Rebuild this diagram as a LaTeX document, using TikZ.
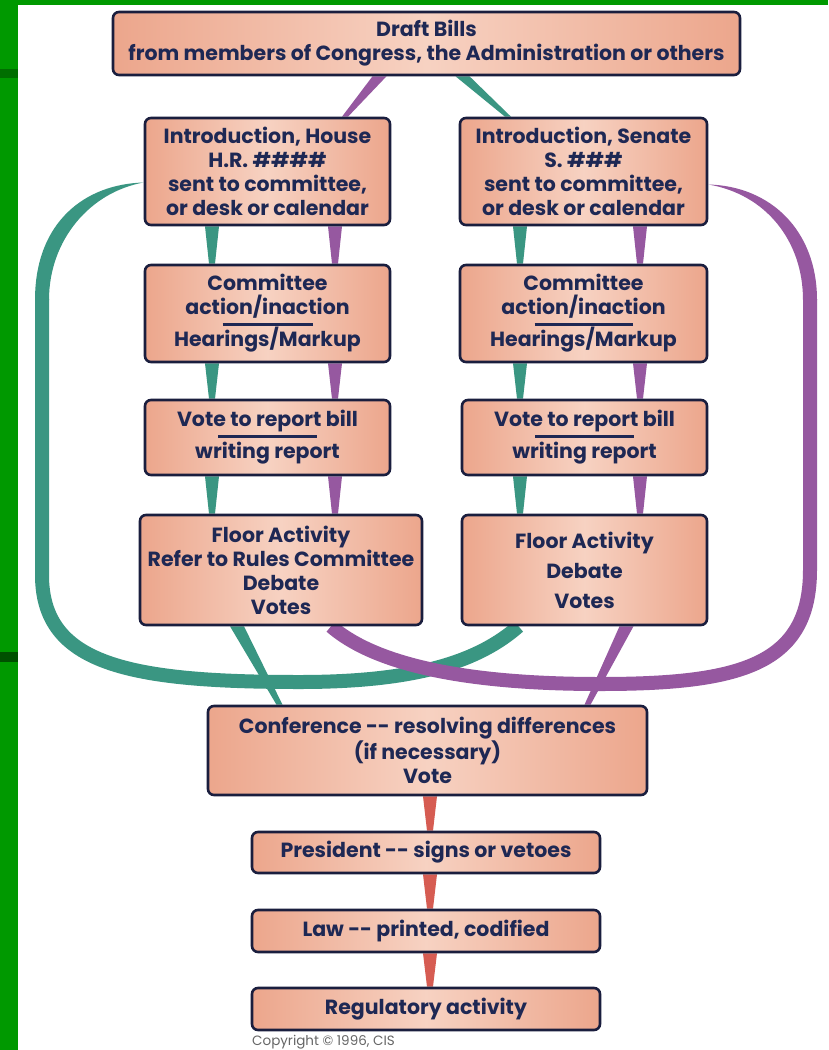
\documentclass[tikz,border=0pt]{standalone}
\usepackage{fontspec}
\setmainfont{Poppins}
\usetikzlibrary{calc,backgrounds}

\definecolor{slidegreen}{RGB}{0,153,0}
\definecolor{slidebar}{RGB}{0,110,0}
\definecolor{slidebardark}{RGB}{0,80,0}
\definecolor{peach}{RGB}{236,166,140}
\definecolor{peachlight}{RGB}{247,210,194}
\definecolor{boxline}{RGB}{26,30,62}
\definecolor{boxtext}{RGB}{30,40,84}
\definecolor{housecol}{RGB}{58,150,130}
\definecolor{senatecol}{RGB}{150,88,160}
\definecolor{lawcol}{RGB}{214,92,82}

\tikzset{
  stagebox/.style={draw=boxline, line width=2.6, rounded corners=6,
    left color=peach, right color=peach, middle color=peachlight,
    inner sep=0, align=center, text=boxtext,
    font=\fontsize{20.5}{24}\selectfont\bfseries},
  bigband/.style={line width=14, line cap=butt}
}

% tapered link: colour, upper end, lower end
\newcommand{\taperlink}[3]{%
  \fill[#1] ($(#2)+(-7,0)$) -- ($(#2)+(7,0)$) -- ($(#3)+(3,0)$) -- ($(#3)+(-3,0)$) -- cycle;}

\begin{document}
\begin{tikzpicture}[x=1pt,y=-1pt]
    \useasboundingbox (0,0) rectangle (828,1050);

    \coordinate (hT) at (212,0);
    \coordinate (hP) at (335,0);
    \coordinate (sT) at (520,0);
    \coordinate (sP) at (640,0);
    \coordinate (mid) at (430,0);

    \node (db) at (426.5,43.5) [stagebox, minimum width=627, minimum height=63]
      {Draft Bills\\from members of Congress, the Administration or others};

    \node (ih) at (267.5,171.5) [stagebox, minimum width=245, minimum height=107]
      {Introduction, House\\H.R. \#\#\#\#\\sent to committee,\\or desk or calendar};
    \node (is) at (583.5,171.5) [stagebox, minimum width=247, minimum height=107]
      {Introduction, Senate\\S. \#\#\#\\sent to committee,\\or desk or calendar};

    \node (ch) at (267.5,313.5) [stagebox, minimum width=245, minimum height=97]
      {Committee\\action/inaction\\[-13pt]\rule{90pt}{2.5pt}\\[-3pt]Hearings/Markup};
    \node (cs) at (583.5,313.5) [stagebox, minimum width=247, minimum height=97]
      {Committee\\action/inaction\\[-13pt]\rule{98pt}{2.5pt}\\[-3pt]Hearings/Markup};

    \node (vh) at (267.5,437.5) [stagebox, minimum width=245, minimum height=75]
      {Vote to report bill\\[-13pt]\rule{99pt}{2.5pt}\\[-3pt]writing report};
    \node (vs) at (584.5,437.5) [stagebox, minimum width=245, minimum height=75]
      {Vote to report bill\\[-13pt]\rule{99pt}{2.5pt}\\[-3pt]writing report};

    \node (fh) at (281,570) [stagebox, minimum width=282, minimum height=110]
      {Floor Activity\\Refer to Rules Committee\\Debate\\Votes};
    \node (fs) at (584.5,570) [stagebox, minimum width=245, minimum height=110]
      {Floor Activity\\[6pt]Debate\\[6pt]Votes};

    \node (cf) at (427.5,750.5) [stagebox, minimum width=439, minimum height=89]
      {Conference -{}- resolving differences\\(if necessary)\\Vote};
    \node (pr) at (426,852.5) [stagebox, minimum width=348, minimum height=41]
      {President -{}- signs or vetoes};
    \node (lw) at (426,931) [stagebox, minimum width=348, minimum height=42]
      {Law -{}- printed, codified};
    \node (rg) at (426,1009) [stagebox, minimum width=348, minimum height=42]
      {Regulatory activity};

    \node (cr) at (252,1042) [anchor=west, inner sep=0, text=black!60,
      font=\fontsize{13.5}{15}\selectfont] {Copyright \textcopyright{} 1996, CIS};

    \begin{pgfonlayer}{background}
      \fill[white] (0,0) rectangle (828,1050);
      \fill[slidegreen] (0,0) rectangle (828,5);
      \fill[slidegreen] (0,0) rectangle (18,1050);
      \fill[slidebar] (0,69) rectangle (18,78);
      \fill[slidebardark] (0,652) rectangle (18,662);

      \taperlink{senatecol}{$(db.south)+(-47,0)$}{$(ih.north -| hP)+(10,0)$}
      \taperlink{housecol}{$(db.south)+(36,0)$}{$(is.north -| sT)+(-12,0)$}

      \taperlink{housecol}{ih.south -| hT}{ch.north -| hT}
      \taperlink{senatecol}{ih.south -| hP}{ch.north -| hP}
      \taperlink{housecol}{ch.south -| hT}{vh.north -| hT}
      \taperlink{senatecol}{ch.south -| hP}{vh.north -| hP}
      \taperlink{housecol}{vh.south -| hT}{fh.north -| hT}
      \taperlink{senatecol}{vh.south -| hP}{fh.north -| hP}

      \taperlink{housecol}{is.south -| sT}{cs.north -| sT}
      \taperlink{senatecol}{is.south -| sP}{cs.north -| sP}
      \taperlink{housecol}{cs.south -| sT}{vs.north -| sT}
      \taperlink{senatecol}{cs.south -| sP}{vs.north -| sP}
      \taperlink{housecol}{vs.south -| sT}{fs.north -| sT}
      \taperlink{senatecol}{vs.south -| sP}{fs.north -| sP}

      \coordinate (hs) at ([yshift=-11]ih.west);
      \coordinate (ss) at ([yshift=-13]is.east);
      \fill[housecol] (hs) .. controls (85,184) and (35,222) .. (35,300)
        -- (49,300) .. controls (49,240) and (90,192) .. (hs) -- cycle;
      \draw[housecol, bigband] (42,299) -- (42,575) .. controls (42,665) and (130,682) .. (300,682)
        .. controls (420,682) and (480,660) .. ([xshift=-66]fs.south);
      \fill[senatecol] (ss) .. controls (770,186) and (817,230) .. (817,300)
        -- (803,300) .. controls (803,240) and (765,194) .. (ss) -- cycle;
      \draw[senatecol, bigband] (810,299) -- (810,570) .. controls (810,665) and (740,684) .. (600,684)
        .. controls (450,684) and (370,660) .. ([xshift=50]fh.south);

      \taperlink{housecol}{$(fh.south)+(-44,0)$}{$(cf.north)+(-148,0)$}
      \taperlink{senatecol}{$(fs.south)+(42,0)$}{$(cf.north)+(160,0)$}

      \taperlink{lawcol}{cf.south -| mid}{pr.north -| mid}
      \taperlink{lawcol}{pr.south -| mid}{lw.north -| mid}
      \taperlink{lawcol}{lw.south -| mid}{rg.north -| mid}
    \end{pgfonlayer}
\end{tikzpicture}
\end{document}
